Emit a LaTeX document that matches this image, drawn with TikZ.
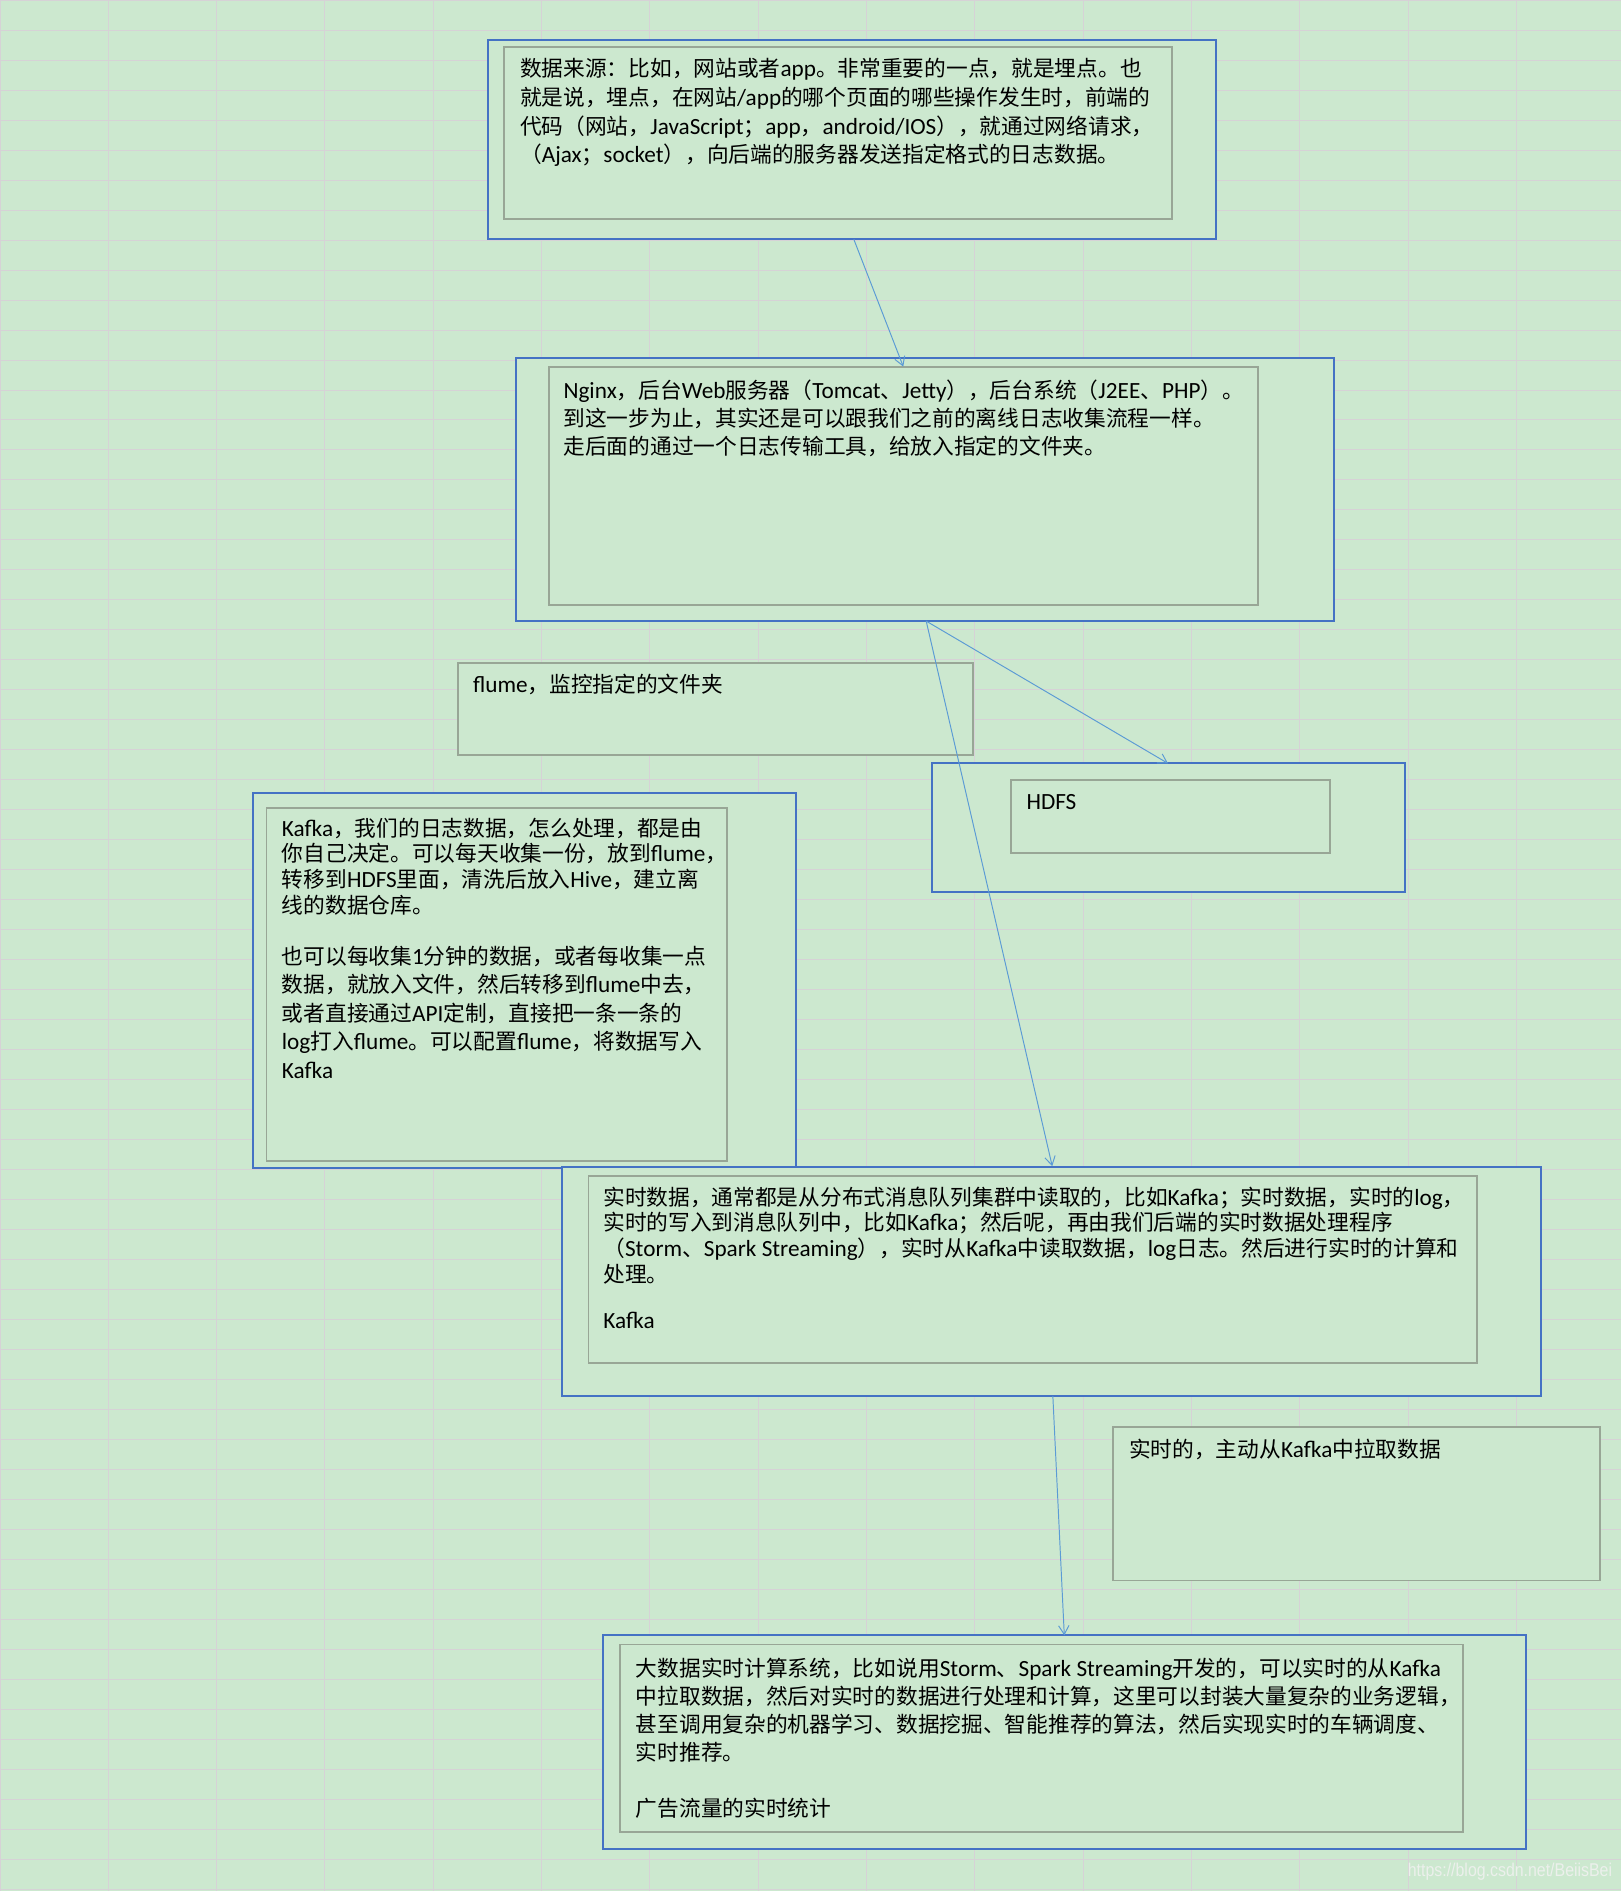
\documentclass[tikz,border=0pt]{standalone}
\usepackage{fontspec}
\setmainfont{Noto Sans CJK SC}
\newfontfamily\latf{Carlito}[Scale=1.07]
\newfontfamily\wmfont{Liberation Sans}
\usetikzlibrary{arrows.meta,fit}
\definecolor{bggreen}{RGB}{204,232,207}
\definecolor{gridc}{RGB}{214,210,214}
\definecolor{boxblue}{RGB}{68,114,196}
\definecolor{boxgray}{RGB}{152,166,150}
\definecolor{arrowblue}{RGB}{91,155,213}
\definecolor{wmc}{RGB}{236,240,236}
\newcommand{\mystrut}{\rule{0pt}{0.88em}}
\newcommand{\ltn}[1]{{\latf #1}}
\begin{document}
\begin{tikzpicture}[x=0.75pt,y=-0.75pt,
  gridline/.style={draw=gridc,line width=0.6pt},
  outerbox/.style={draw=boxblue,line width=1.25pt,fill=bggreen,inner sep=0pt},
  innerbox/.style={draw=boxgray,line width=1.2pt,fill=bggreen,inner sep=0pt},
  txt/.style={anchor=north west,inner sep=0pt,align=left,text=black},
  arr/.style={draw=arrowblue,line width=0.6pt,-{Straight Barb[length=5.5pt,width=6.5pt]}}]
\useasboundingbox (0,0) rectangle (1344,1568);
\fill[bggreen] (0,0) rectangle (1344,1568);
% grid
\foreach \i in {0,...,15} \draw[gridline] ({\i*89.82},0) -- ({\i*89.82},1568);
\foreach \j in {0,...,63} \draw[gridline] (0,{\j*24.874}) -- (1344,{\j*24.874});

% box 1
\node[outerbox,fit={(405,33.5)(1008,198.5)}] (b1) {};
\node[innerbox,fit={(418,39)(972,181.5)}] (b1i) {};
\node[txt,font=\fontsize{13.5pt}{17.8pt}\selectfont] (t1) at (431,47.6) {\mystrut 数据来源：比如，网站或者\ltn{app}。非常重要的一点，就是埋点。也\\
就是说，埋点，在网站\ltn{/app}的哪个页面的哪些操作发生时，前端的\\
代码（网站，\ltn{JavaScript}；\ltn{app}，\ltn{android/IOS}），就通过网络请求，\\
（\ltn{Ajax}；\ltn{socket}），向后端的服务器发送指定格式的日志数据。};

% box 2
\node[outerbox,fit={(428,297)(1106,515)}] (b2) {};
\node[innerbox,fit={(455,304)(1043,501.5)}] (b2i) {};
\node[txt,font=\fontsize{13.5pt}{17.5pt}\selectfont] (t2) at (467,314) {\mystrut \ltn{Nginx}，后台\ltn{Web}服务器（\ltn{Tomcat}、\ltn{Jetty}），后台系统（\ltn{J2EE}、\ltn{PHP}）。\\
到这一步为止，其实还是可以跟我们之前的离线日志收集流程一样。\\
走后面的通过一个日志传输工具，给放入指定的文件夹。};

% flume box
\node[innerbox,fit={(380,550)(807,626)}] (fl) {};
\node[txt,font=\fontsize{13.5pt}{17.5pt}\selectfont] (tfl) at (392,558) {\mystrut \ltn{flume}，监控指定的文件夹};

% HDFS box
\node[outerbox,fit={(773,633)(1165,739.5)}] (hd) {};
\node[innerbox,fit={(838,647)(1103,707)}] (hdi) {};
\node[txt,font=\fontsize{13.5pt}{17.5pt}\selectfont] (thd) at (851,655) {\mystrut \ltn{HDFS}};

% Kafka box
\node[outerbox,fit={(210,657.5)(660,968.5)}] (kf) {};
\node[innerbox,fit={(221,670)(602.5,963)}] (kfi) {};
\node[txt,font=\fontsize{13.5pt}{16.05pt}\selectfont] (tkf1) at (233.5,677.2) {\mystrut \ltn{Kafka}，我们的日志数据，怎么处理，都是由\\
你自己决定。可以每天收集一份，放到\ltn{flume}，\\
转移到\ltn{HDFS}里面，清洗后放入\ltn{Hive}，建立离\\
线的数据仓库。};
\node[txt,font=\fontsize{13.5pt}{17.7pt}\selectfont] (tkf2) at (233.5,783.4) {\mystrut 也可以每收集\ltn{1}分钟的数据，或者每收集一点\\
数据，就放入文件，然后转移到\ltn{flume}中去，\\
或者直接通过\ltn{API}定制，直接把一条一条的\\
\ltn{log}打入\ltn{flume}。可以配置\ltn{flume}，将数据写入\\
\ltn{Kafka}};

% box 5
\node[outerbox,fit={(466,967.3)(1278,1157.4)}] (b5) {};
\node[innerbox,fit={(488,974.8)(1225,1130.5)}] (b5i) {};
\node[txt,font=\fontsize{13.5pt}{16.05pt}\selectfont] (t5a) at (500,983.2) {\mystrut 实时数据，通常都是从分布式消息队列集群中读取的，比如\ltn{Kafka}；实时数据，实时的\ltn{log}，\\
实时的写入到消息队列中，比如\ltn{Kafka}；然后呢，再由我们后端的实时数据处理程序\\
（\ltn{Storm}、\ltn{Spark Streaming}），实时从\ltn{Kafka}中读取数据，\ltn{log}日志。然后进行实时的计算和\\
处理。};
\node[txt,font=\fontsize{13.5pt}{16.05pt}\selectfont] (t5b) at (500,1085.4) {\mystrut \ltn{Kafka}};

% realtime pull box
\node[innerbox,fit={(923,1183)(1326.5,1310.5)}] (rt) {};
\node[txt,font=\fontsize{13.5pt}{17.5pt}\selectfont] (trt) at (936,1192.7) {\mystrut 实时的，主动从\ltn{Kafka}中拉取数据};

% box 6
\node[outerbox,fit={(500,1356.1)(1265.5,1532.8)}] (b6) {};
\node[innerbox,fit={(514,1363.6)(1213,1518.7)}] (b6i) {};
\node[txt,font=\fontsize{13.5pt}{17.4pt}\selectfont] (t6a) at (527,1374.2) {\mystrut 大数据实时计算系统，比如说用\ltn{Storm}、\ltn{Spark Streaming}开发的，可以实时的从\ltn{Kafka}\\
中拉取数据，然后对实时的数据进行处理和计算，这里可以封装大量复杂的业务逻辑，\\
甚至调用复杂的机器学习、数据挖掘、智能推荐的算法，然后实现实时的车辆调度、\\
实时推荐。};
\node[txt,font=\fontsize{13.5pt}{17.4pt}\selectfont] (t6b) at (527,1489.8) {\mystrut 广告流量的实时统计};

% connectors
\coordinate (a1s) at (708,198.5);
\coordinate (a1e) at (749,304);
\coordinate (a2s) at (768,515);
\coordinate (a2e) at (968.5,633);
\coordinate (a3e) at (872.5,967);
\coordinate (a4s) at (873,1157.4);
\coordinate (a4e) at (882.5,1356);
\draw[arr] (a1s) -- (a1e);
\draw[arr] (a2s) -- (a2e);
\draw[arr] (a2s) -- (a3e);
\draw[arr] (a4s) -- (a4e);

% watermark
\node[anchor=east,inner sep=0pt,text=wmc,font=\wmfont\fontsize{11.5pt}{13pt}\selectfont] (wm) at (1337,1552) {\scalebox{0.86}[1]{https://blog.csdn.net/BeiisBei}};
\end{tikzpicture}
\end{document}
